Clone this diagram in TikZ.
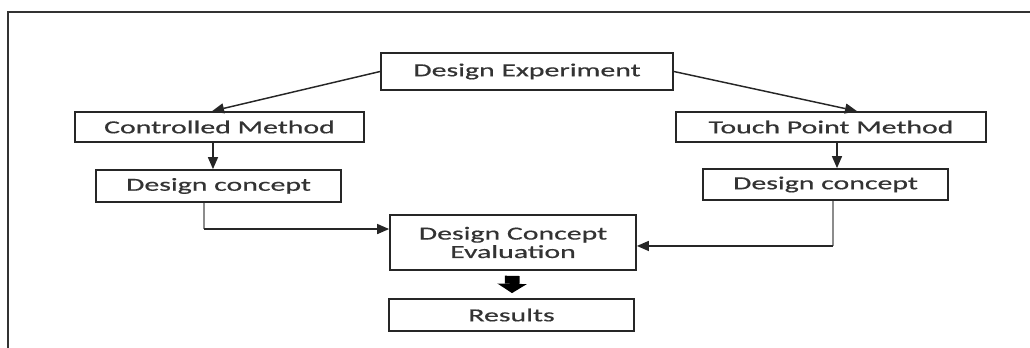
\documentclass[tikz,border=0pt]{standalone}
\usepackage{fontspec}
\setmainfont[FakeStretch=1.62,FakeBold=0.6]{Carlito}
\usetikzlibrary{arrows.meta}

\tikzset{
  box/.style={draw, line width=1.3pt, draw=black!85, inner sep=0.75pt, align=center, text=black!80, font=\fontsize{13.8pt}{13.8pt}\selectfont},
  arr/.style={line width=1.1pt, draw=black!85, -{Triangle[length=9pt,width=7.5pt]}},
}

\begin{document}
\begin{tikzpicture}[x=0.75pt,y=-0.75pt]
\useasboundingbox (0,0) rectangle (1030,348);

% Frame (top and left edges)
\draw [line width=1.4pt, color=black!80] (8,348) -- (8,12) -- (1030,12);

% Text Node
\node [box, minimum width=219pt, minimum height=27.75pt] (exp) at (527,71.5) {Design Experiment};
% Text Node
\node [box, minimum width=216.75pt, minimum height=22.5pt] (ctrl) at (219.5,127) {Controlled Method};
% Text Node
\node [box, minimum width=232.5pt, minimum height=22.5pt] (tpm) at (831,127) {Touch Point Method};
% Text Node
\node [box, minimum width=183.75pt, minimum height=24pt] (dcl) at (218.5,186) {Design concept};
% Text Node
\node [box, minimum width=183.75pt, minimum height=23.25pt] (dcr) at (825.5,184.5) {Design concept};
% Text Node
\node [box, minimum width=184.5pt, minimum height=41.25pt] (eval) at (513,242.5) {Design Concept\\Evaluation};
% Text Node
\node [box, minimum width=183.75pt, minimum height=24pt] (res) at (511.5,315) {Results};

%Straight Lines
\draw [arr] (exp.west) -- ([xshift=-5.6pt]ctrl.north);
\draw [arr] (exp.east) -- ([xshift=19.5pt]tpm.north);
\draw [arr] ([xshift=-4.9pt]ctrl.south) -- ([xshift=-4.9pt]ctrl.south |- dcl.north);
\draw [arr] ([xshift=4.5pt]tpm.south) -- ([xshift=4.5pt]tpm.south |- dcr.north);

% elbows into the evaluation box
\coordinate (inL) at ([yshift=10.1pt]eval.west);
\coordinate (inR) at ([yshift=-2.6pt]eval.east);
\coordinate (outL) at ([xshift=-10.9pt]dcl.south);
\coordinate (outR) at ([xshift=5.6pt]dcr.south);
\draw [line width=2pt, color=black!45] (outL) -- (outL |- inL);
\draw [arr] (outL |- inL) -- (inL);
\draw [line width=2pt, color=black!45] (outR) -- (outR |- inR);
\draw [arr] (outR |- inR) -- (inR);

% block arrow
\draw [line width=11pt, shorten <=3.75pt, shorten >=3.75pt, -{Triangle[length=7pt,width=22pt,line width=0pt]}] (eval) -- (res);
\end{tikzpicture}
\end{document}
